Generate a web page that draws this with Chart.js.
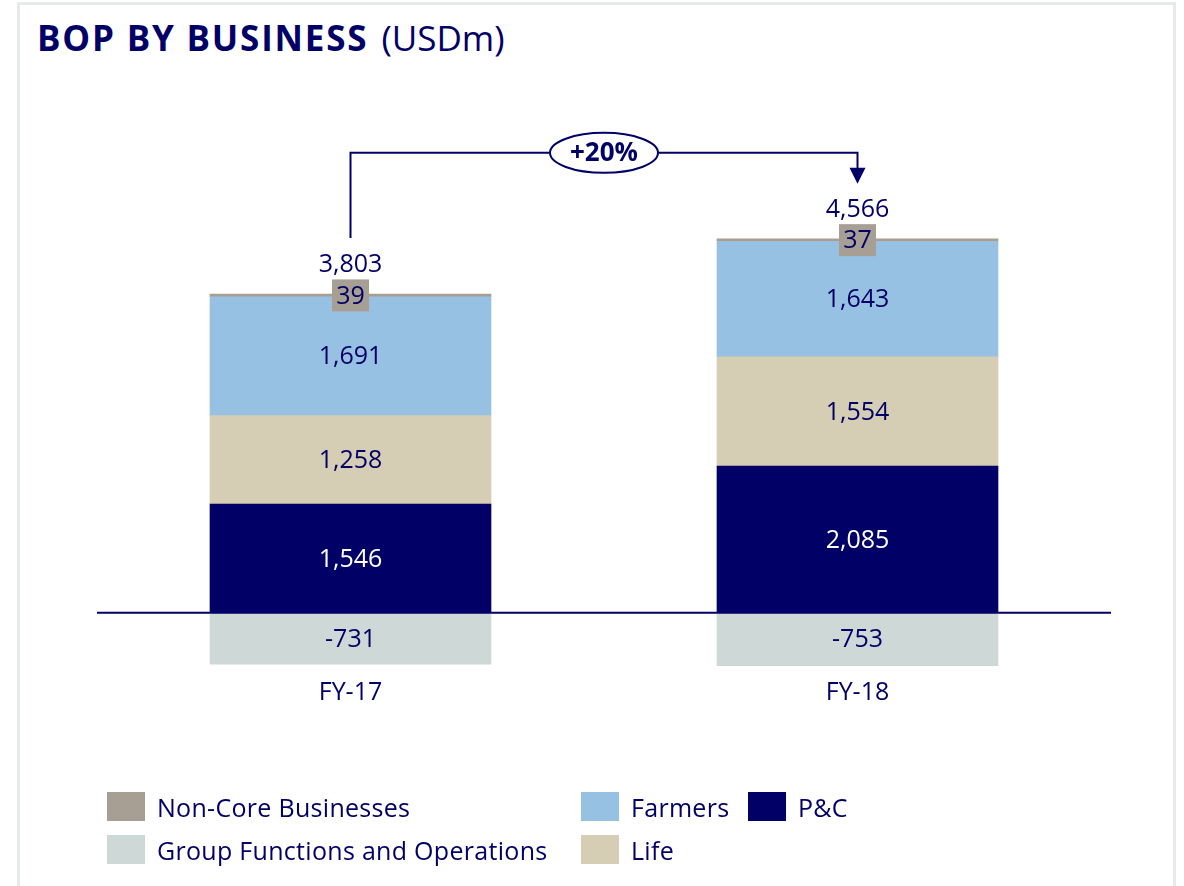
<!DOCTYPE html>
<html>
<head>
<meta charset="utf-8">
<script src="https://cdn.jsdelivr.net/npm/chart.js@4.4.1/dist/chart.umd.min.js"></script>
<style>
    body { margin: 0; background: #fff; font-family: 'Open Sans', sans-serif; color: #000066; }
    #frame { position: absolute; left: 17px; top: 2px; width: 1153px; height: 900px; border: 3px solid #e6eae9; border-bottom: none; }
    #title { position: absolute; left: 37px; top: 20px; font-size: 35px; line-height: 35px; white-space: nowrap; }
    #title b { font-weight: 700; letter-spacing: 1.8px; margin-right: 4px; }
    #bopChart { position: absolute; left: 0; top: 0; }
    .legend-item { position: absolute; display: flex; align-items: center; height: 29px; font-size: 25px; letter-spacing: 0.3px; white-space: nowrap; }
    .legend-item span.box { display: inline-block; width: 38px; height: 29px; margin-right: 12px; }
</style>
</head>
<body>
<div id="frame"></div>
<div id="title"><b>BOP BY BUSINESS</b> (USDm)</div>
<canvas id="bopChart" width="1184" height="886"></canvas>
<div id="legend"></div>
<script>
var categories = ['FY-17', 'FY-18']
var pcValues = [1546, 2085]
var lifeValues = [1258, 1554]
var farmersValues = [1691, 1643]
var nonCoreValues = [39, 37]
var groupValues = [-731, -753]
var totals = [3803, 4566]
var growthLabel = '+20%'

var navy = '#000066'
var seriesNames = ['P&C', 'Life', 'Farmers', 'Non-Core Businesses', 'Group Functions and Operations']
var seriesColors = ['#000066', '#d6cdb5', '#97c1e3', '#a79e94', '#cdd8d7']
var seriesData = [pcValues, lifeValues, farmersValues, nonCoreValues, groupValues]

// legend order as in the slide: row 1 then row 2
var legendSlots = [
    { series: 3, left: 107, top: 792 },
    { series: 2, left: 581, top: 792 },
    { series: 0, left: 748, top: 792 },
    { series: 4, left: 107, top: 835 },
    { series: 1, left: 581, top: 835 }
]
legendSlots.forEach(function (slot) {
    var item = document.createElement('div')
    item.className = 'legend-item'
    item.style.left = slot.left + 'px'
    item.style.top = slot.top + 'px'
    item.innerHTML = '<span class="box" style="background:' + seriesColors[slot.series] + '"></span>' + seriesNames[slot.series].replace('&', '&amp;')
    document.getElementById('legend').appendChild(item)
})

function fmt(v) {
    return v.toLocaleString('en-US')
}

var labelsPlugin = {
    id: 'bopLabels',
    afterDatasetsDraw: function (chart) {
        var ctx = chart.ctx
        var area = chart.chartArea
        var y0 = chart.scales.y.getPixelForValue(0)
        ctx.save()

        // zero line
        ctx.strokeStyle = navy
        ctx.lineWidth = 2
        ctx.beginPath()
        ctx.moveTo(area.left, y0)
        ctx.lineTo(area.right, y0)
        ctx.stroke()

        ctx.font = '25px "Open Sans"'
        ctx.textAlign = 'center'
        ctx.textBaseline = 'middle'

        var tops = []
        var bottoms = []
        var centers = []
        categories.forEach(function (cat, i) {
            var top = y0, bottom = y0
            chart.data.datasets.forEach(function (ds, d) {
                var bar = chart.getDatasetMeta(d).data[i]
                top = Math.min(top, bar.y, bar.base)
                bottom = Math.max(bottom, bar.y, bar.base)
                centers[i] = bar.x
            })
            tops[i] = top
            bottoms[i] = bottom
        })

        chart.data.datasets.forEach(function (ds, d) {
            chart.getDatasetMeta(d).data.forEach(function (bar, i) {
                var cy = (bar.y + bar.base) / 2
                if (d === 3) {
                    ctx.fillStyle = seriesColors[3]
                    ctx.fillRect(bar.x - 18.5, cy - 16, 37, 32)
                }
                ctx.fillStyle = d === 0 ? '#ffffff' : navy
                ctx.fillText(fmt(ds.data[i]), bar.x, cy + 1)
            })
        })

        ctx.fillStyle = navy
        var labelY = Math.max(bottoms[0], bottoms[1]) + 27
        categories.forEach(function (cat, i) {
            ctx.fillText(fmt(totals[i]), centers[i], tops[i] - 29)
            ctx.fillText(cat, centers[i], labelY)
        })

        // growth bracket
        var x1 = centers[0], x2 = centers[1]
        var yLine = Math.min(tops[0], tops[1]) - 86
        var tip = tops[1] - 55
        ctx.lineWidth = 2
        ctx.beginPath()
        ctx.moveTo(x1, tops[0] - 56)
        ctx.lineTo(x1, yLine)
        ctx.lineTo(x2, yLine)
        ctx.lineTo(x2, tip - 14)
        ctx.stroke()
        ctx.beginPath()
        ctx.moveTo(x2 - 8, tip - 16)
        ctx.lineTo(x2 + 8, tip - 16)
        ctx.lineTo(x2, tip)
        ctx.closePath()
        ctx.fill()

        var mx = (x1 + x2) / 2
        ctx.beginPath()
        ctx.ellipse(mx, yLine, 54, 20, 0, 0, Math.PI * 2)
        ctx.fillStyle = '#ffffff'
        ctx.fill()
        ctx.stroke()
        ctx.fillStyle = navy
        ctx.font = 'bold 26px "Open Sans"'
        ctx.fillText(growthLabel, mx, yLine + 1)
        ctx.restore()
    }
}

var bopChart = new Chart(document.getElementById('bopChart'), {
    type: 'bar',
    data: {
        labels: categories,
        datasets: seriesData.map(function (values, d) {
            return {
                label: seriesNames[d],
                data: values,
                backgroundColor: seriesColors[d],
                borderWidth: 0,
                barThickness: 281
            }
        })
    },
    options: {
        responsive: false,
        animation: false,
        layout: {
            padding: { left: 97, right: 73, top: 191, bottom: 203 }
        },
        scales: {
            x: { stacked: true, display: false },
            y: { stacked: true, display: false, min: -1000, max: 6000 }
        },
        plugins: {
            legend: { display: false },
            tooltip: { enabled: false }
        }
    },
    plugins: [labelsPlugin]
})
</script>
</body>
</html>
